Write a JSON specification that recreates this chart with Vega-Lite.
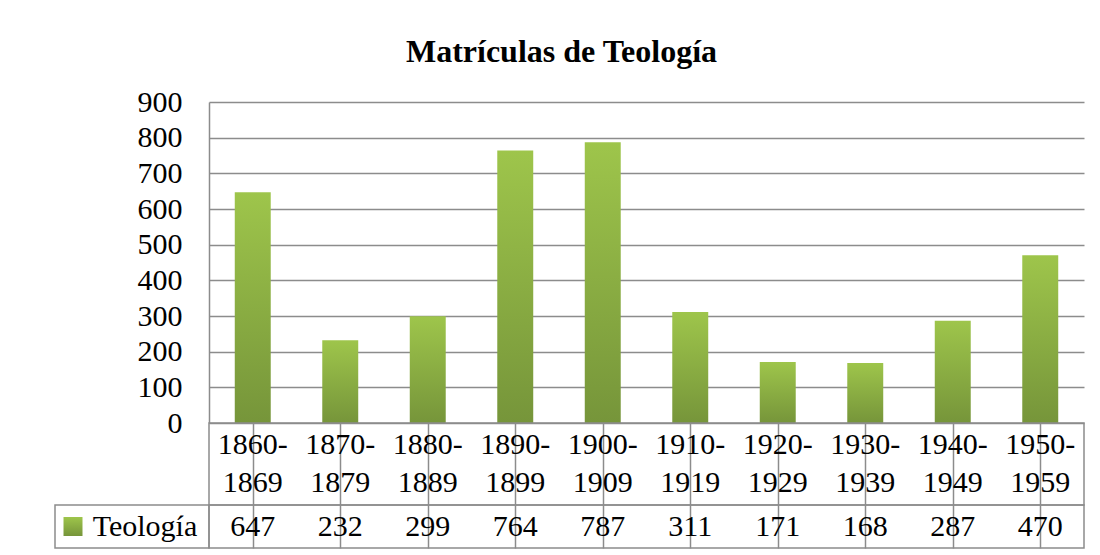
{
  "$schema": "https://vega.github.io/schema/vega-lite/v6.json",
  "background": "white",
  "padding": {"left": 54, "top": 36, "right": 10, "bottom": 0},
  "title": {"text": "Matrículas de Teología", "font": "Times New Roman, Liberation Serif, serif", "fontSize": 32, "fontWeight": "bold", "color": "black", "anchor": "middle", "offset": 18, "dx": -8},
  "config": {"font": "Times New Roman, Liberation Serif, serif"},
  "datasets": {
    "d": [
      {"periodo": "1860-\n1869", "valor": 647},
      {"periodo": "1870-\n1879", "valor": 232},
      {"periodo": "1880-\n1889", "valor": 299},
      {"periodo": "1890-\n1899", "valor": 764},
      {"periodo": "1900-\n1909", "valor": 787},
      {"periodo": "1910-\n1919", "valor": 311},
      {"periodo": "1920-\n1929", "valor": 171},
      {"periodo": "1930-\n1939", "valor": 168},
      {"periodo": "1940-\n1949", "valor": 287},
      {"periodo": "1950-\n1959", "valor": 470}
    ],
    "leg": [{"serie": "Teología"}]
  },
  "columns": 2,
  "spacing": 0,
  "bounds": "flush",
  "align": "each",
  "concat": [
    {
      "width": 154, "height": 321,
      "data": {"values": []},
      "mark": {"type": "point", "opacity": 0},
      "encoding": {},
      "view": {"stroke": null}
    },
    {
      "width": 875, "height": 321,
      "data": {"name": "d"},
      "mark": {"type": "bar", "color": {"gradient": "linear", "x1": 0, "y1": 1, "x2": 0, "y2": 0, "stops": [{"offset": 0, "color": "#76953a"}, {"offset": 1, "color": "#9ec54b"}]}},
      "encoding": {
        "x": {"field": "periodo", "type": "nominal", "sort": null, "scale": {"paddingInner": 0.589, "paddingOuter": 0.2945}, "axis": null},
        "y": {"field": "valor", "type": "quantitative", "scale": {"domain": [0, 900], "nice": false},
          "axis": {"values": [0, 100, 200, 300, 400, 500, 600, 700, 800, 900], "title": null, "grid": true, "gridColor": "#8c8c8c", "gridWidth": 1.5, "domainColor": "#8c8c8c", "domainWidth": 1.5, "ticks": false, "labelPadding": 27, "labelFont": "Times New Roman, Liberation Serif, serif", "labelFontSize": 30, "labelColor": "black"}}
      },
      "view": {"stroke": null}
    },
    {
      "width": 154, "height": 82,
      "data": {"values": []},
      "mark": {"type": "point", "opacity": 0},
      "encoding": {},
      "view": {"stroke": null}
    },
    {
      "width": 875, "height": 82,
      "data": {"name": "d"},
      "mark": {"type": "text", "lineBreak": "\n", "font": "Times New Roman, Liberation Serif, serif", "fontSize": 30, "lineHeight": 38, "color": "black", "baseline": "middle", "dy": -19},
      "encoding": {
        "x": {"field": "periodo", "type": "nominal", "sort": null, "scale": {"paddingInner": 0, "paddingOuter": 0},
          "axis": {"grid": true, "bandPosition": 0, "gridColor": "#8c8c8c", "gridWidth": 1.5, "labels": false, "ticks": false, "domain": false, "title": null}},
        "text": {"field": "periodo"}
      },
      "view": {"stroke": "#8c8c8c", "strokeWidth": 1.5}
    },
    {
      "width": 154, "height": 43,
      "data": {"name": "leg"},
      "layer": [
        {"mark": {"type": "point", "shape": "square", "filled": true, "size": 361, "opacity": 1, "xOffset": -59, "color": {"gradient": "linear", "x1": 0, "y1": 1, "x2": 0, "y2": 0, "stops": [{"offset": 0, "color": "#76953a"}, {"offset": 1, "color": "#9ec54b"}]}}, "encoding": {}},
        {"mark": {"type": "text", "font": "Times New Roman, Liberation Serif, serif", "fontSize": 30, "color": "black", "align": "center", "baseline": "middle", "dx": 13}, "encoding": {"text": {"field": "serie"}}}
      ],
      "view": {"stroke": "#8c8c8c", "strokeWidth": 1.5}
    },
    {
      "width": 875, "height": 43,
      "data": {"name": "d"},
      "mark": {"type": "text", "font": "Times New Roman, Liberation Serif, serif", "fontSize": 30, "color": "black", "baseline": "middle"},
      "encoding": {
        "x": {"field": "periodo", "type": "nominal", "sort": null, "scale": {"paddingInner": 0, "paddingOuter": 0},
          "axis": {"grid": true, "bandPosition": 0, "gridColor": "#8c8c8c", "gridWidth": 1.5, "labels": false, "ticks": false, "domain": false, "title": null}},
        "text": {"field": "valor"}
      },
      "view": {"stroke": "#8c8c8c", "strokeWidth": 1.5}
    }
  ]
}
